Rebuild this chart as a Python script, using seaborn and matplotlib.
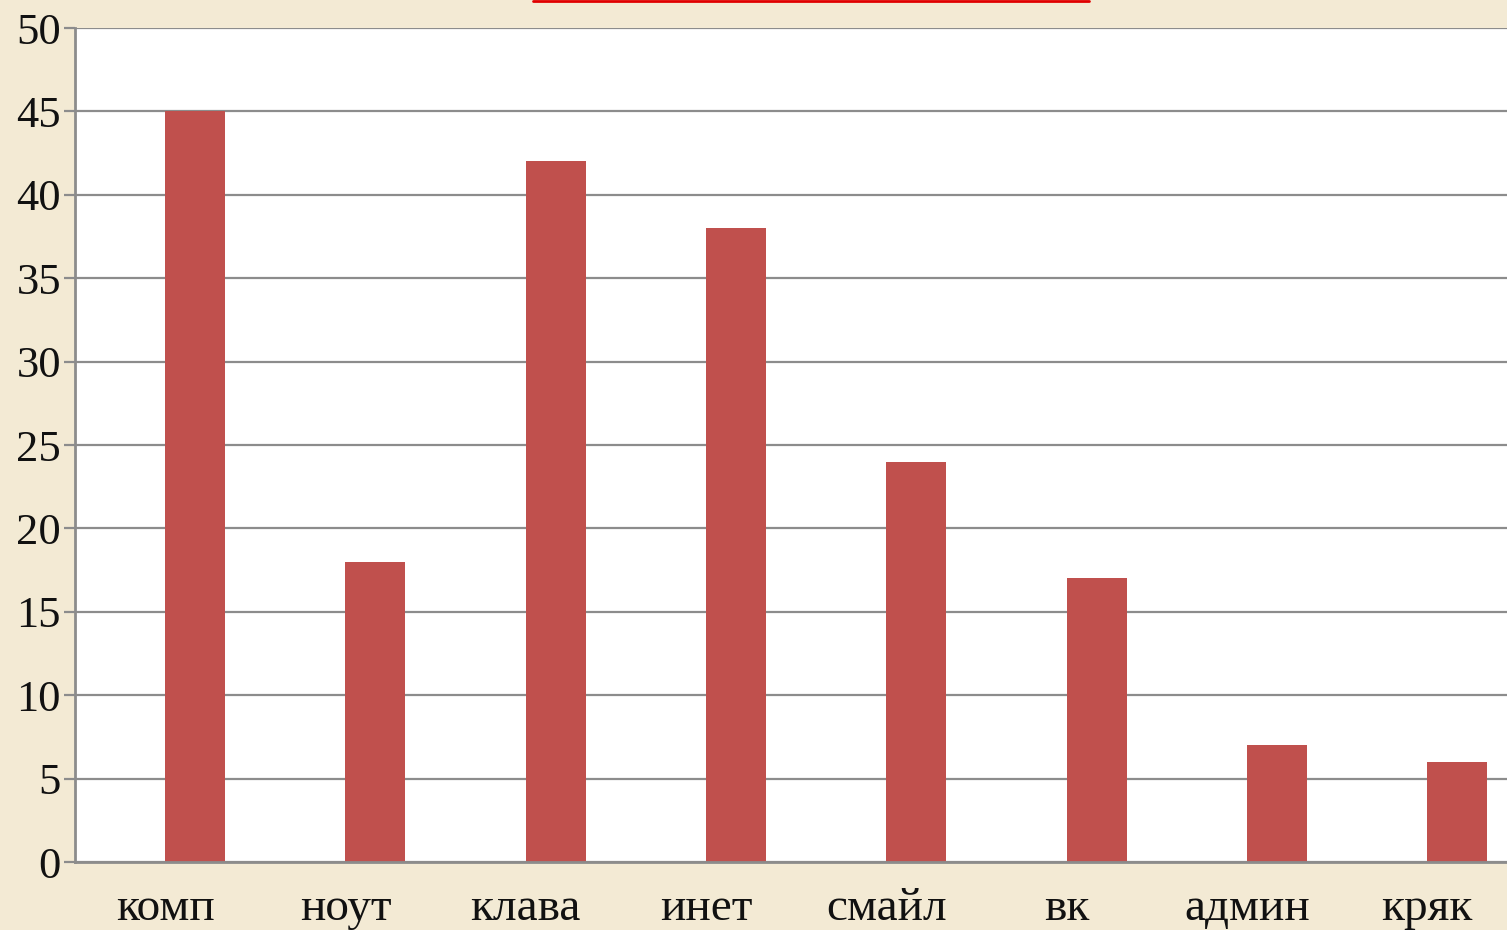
import pandas as pd
import matplotlib.pyplot as plt
import seaborn as sns
from matplotlib.lines import Line2D

# Данные
categories = ['комп', 'ноут', 'клава', 'инет', 'смайл', 'вк', 'админ', 'кряк']
values = [45, 18, 42, 38, 24, 17, 7, 6]
empty_values = [0, 0, 0, 0, 0, 0, 0, 0]
y_ticks = [0, 5, 10, 15, 20, 25, 30, 35, 40, 45, 50]

df = pd.DataFrame({
    'cat': categories + categories,
    'val': empty_values + values,
    'series': ['пусто'] * len(categories) + ['ряд'] * len(categories),
})

sns.set_style('white')
plt.rcParams['font.family'] = ['Liberation Serif', 'DejaVu Serif']

W, H = 1507, 930
slot = 180.3  # px на категорию
fig = plt.figure(figsize=(W / 100, H / 100), dpi=100, facecolor='#F3EAD4')
ax = fig.add_axes([75 / W, 1 - 862 / H, 1 - 75 / W, (862 - 28) / H])
ax.set_facecolor('white')

sns.barplot(data=df, x='cat', y='val', hue='series',
            palette=['#C0504D', '#C0504D'], width=120 / slot, gap=0,
            saturation=1, legend=False, linewidth=0, ax=ax)

ax.set_yticks(y_ticks)
ax.set_yticklabels([str(t) for t in y_ticks], fontsize=32)
ax.set_xticks(range(len(categories)))
ax.set_xticklabels(categories, fontsize=34)
ax.set_xticks([i - 0.5 for i in range(len(categories) + 1)], minor=True)
ax.set_xlim(-0.5, -0.5 + 1432 / slot)
ax.set_ylim(0, 50)
ax.set_xlabel('')
ax.set_ylabel('')

grey = '#8C8C8C'
ax.yaxis.grid(True, color=grey, linewidth=1.6)
ax.set_axisbelow(True)
ax.tick_params(axis='x', which='major', length=0, pad=18, colors='#111111')
ax.tick_params(axis='x', which='minor', length=8, width=1.6, color=grey, direction='out')
ax.tick_params(axis='y', length=8, width=1.6, color=grey, pad=2, labelcolor='#111111', left=True)
for side in ['top', 'right']:
    ax.spines[side].set_visible(False)
for side in ['left', 'bottom']:
    ax.spines[side].set_color(grey)
    ax.spines[side].set_linewidth(2)

# красная линия сверху
fig.add_artist(Line2D([533 / W, 1089 / W], [1 - 1 / H, 1 - 1 / H],
                      color='#E00000', linewidth=2))

fig.savefig('out.png', dpi=100, facecolor=fig.get_facecolor())
